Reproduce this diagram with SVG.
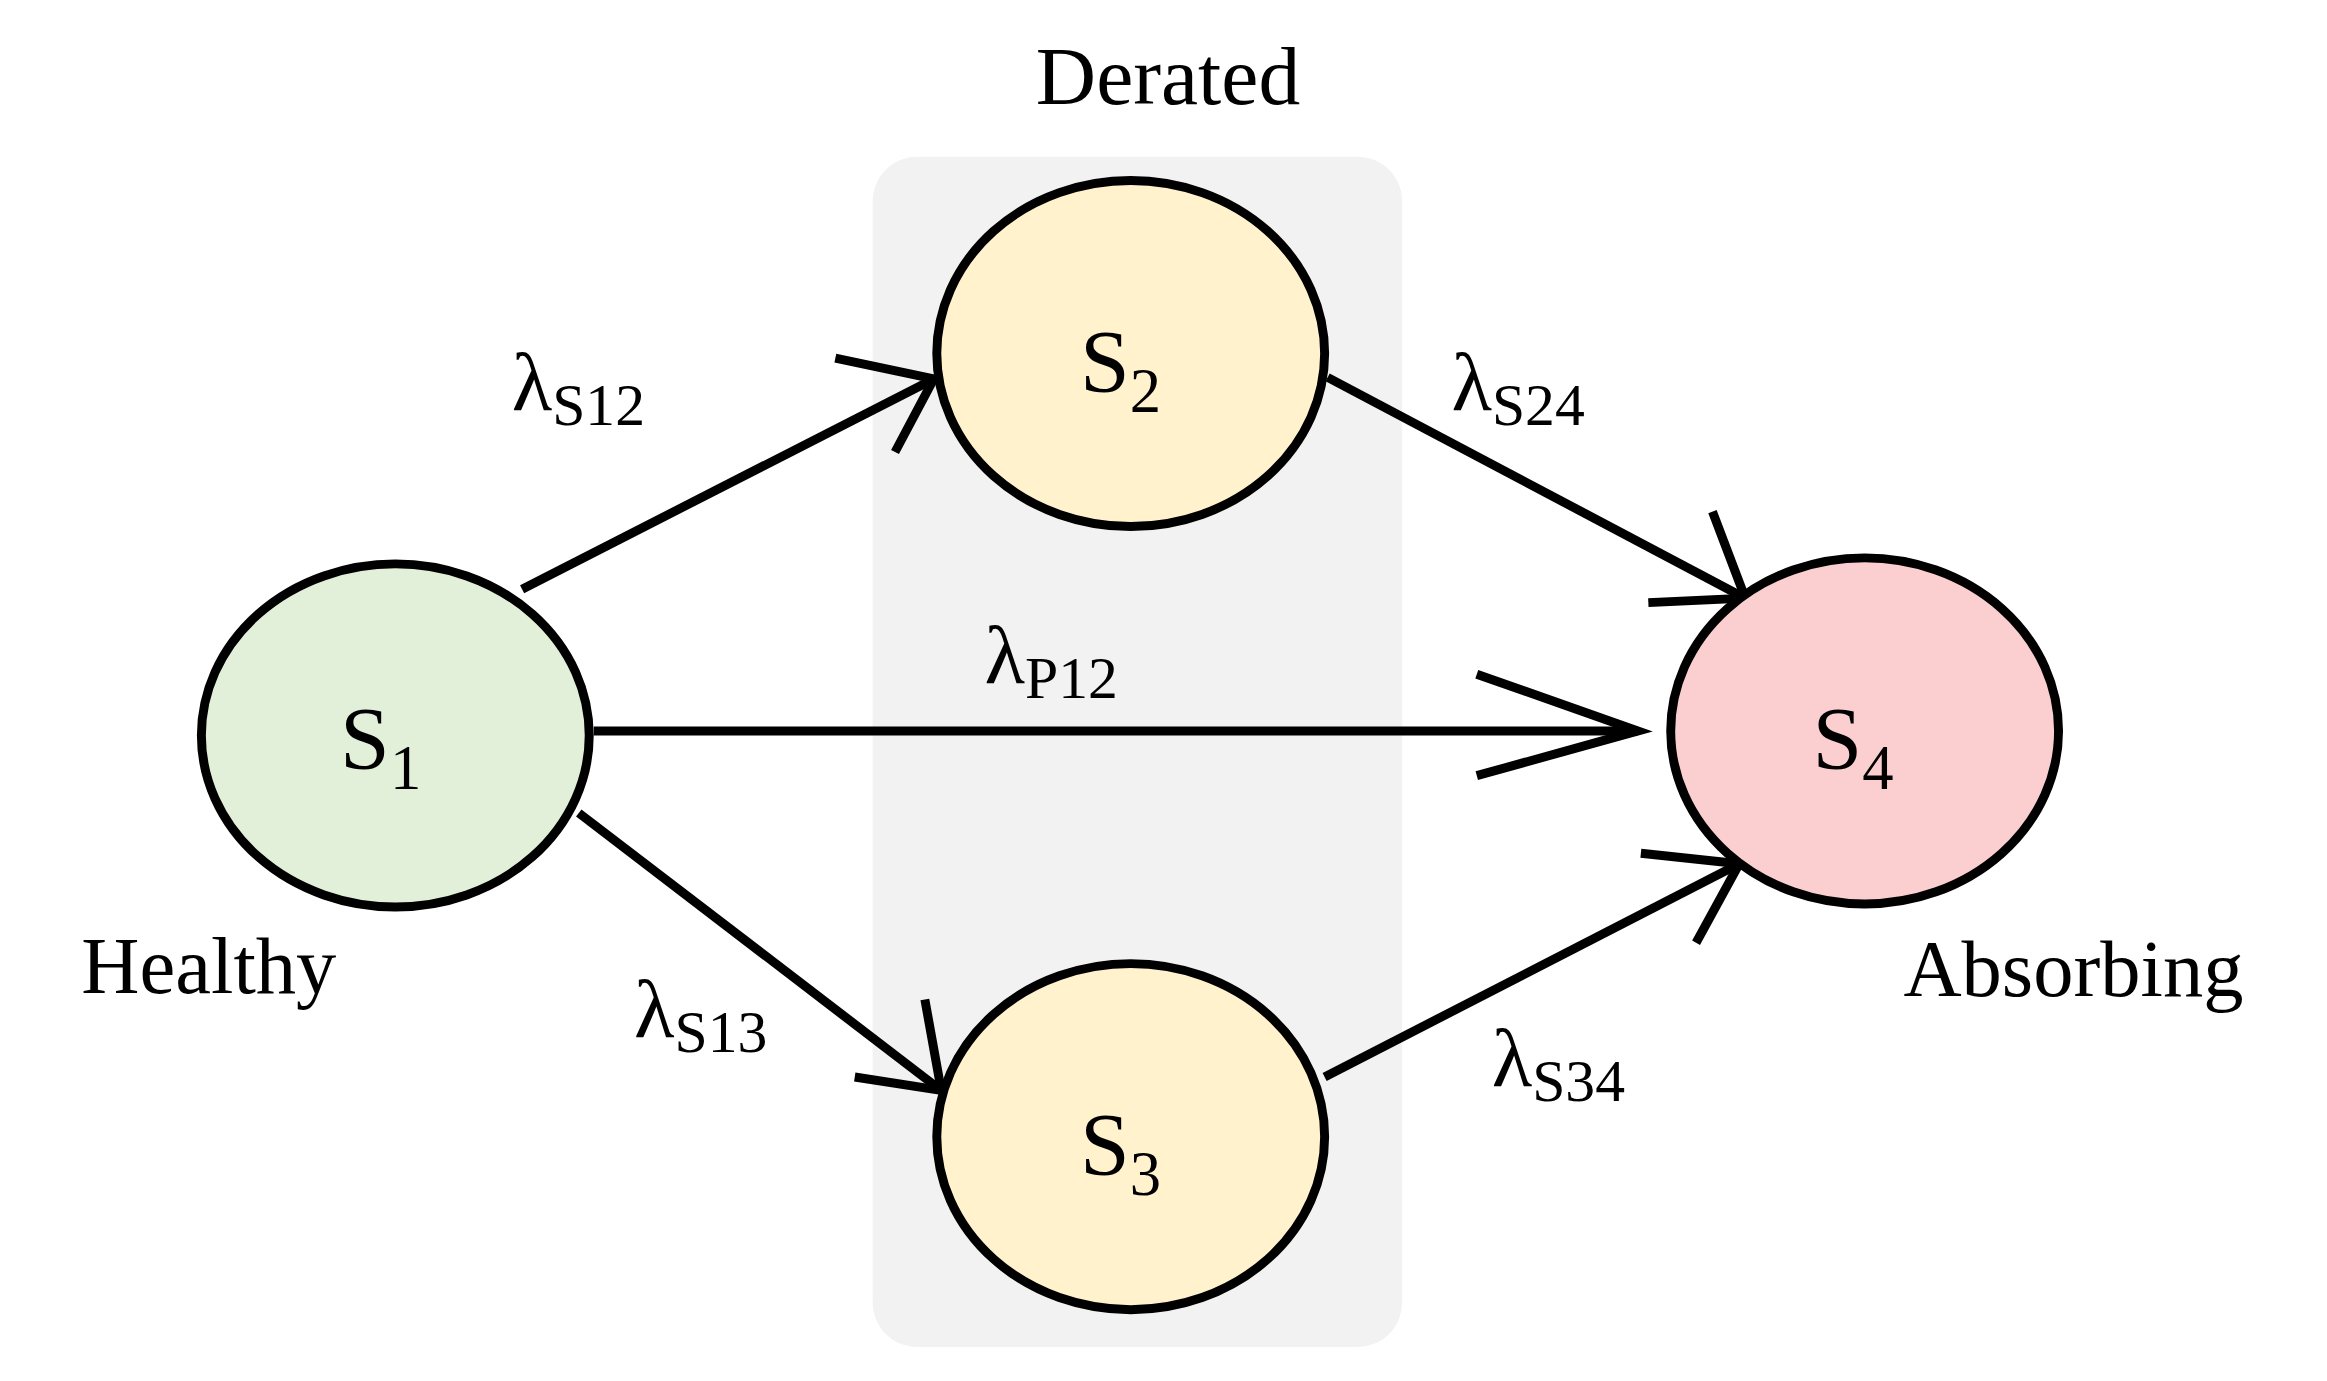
<svg xmlns="http://www.w3.org/2000/svg" width="2327" height="1381" viewBox="0 0 2327 1381">
<style>
.n{stroke:#000;stroke-width:6}
.t{font-family:"Liberation Serif",serif;fill:#000}
.c line,.c polyline{stroke:#000;stroke-width:6;fill:none}
</style>
<rect width="2327" height="1381" fill="#fff"/>
<g transform="scale(1.4917)">
<rect id="derated-box" x="585" y="105" width="355" height="798" rx="30" fill="#f2f2f2"/>
<text class="t" x="783" y="70" font-size="56" text-anchor="middle">Derated</text>
<g class="c" id="connectors">
<line x1="350" y1="395" x2="626" y2="254"/><polyline points="560,240 626,254 600,303"/>
<line x1="890" y1="253" x2="1170" y2="401"/><polyline points="1148,343 1170,401 1105,404"/>
<line x1="398" y1="490" x2="1098" y2="490"/><polyline points="990,452 1098,490 990,520"/>
<line x1="388" y1="545" x2="631" y2="731"/><polyline points="620,670 631,731 573,722"/>
<line x1="888" y1="722" x2="1166" y2="579"/><polyline points="1100,572 1166,579 1137,632"/>
</g>
<g id="s1"><ellipse class="n" cx="265" cy="493" rx="130" ry="115" fill="#e2efd9"/><text class="t" x="228" y="515" font-size="60">S<tspan font-size="42" dy="14">1</tspan></text><text class="t" x="140" y="666" font-size="54" text-anchor="middle">Healthy</text></g>
<g id="s2"><ellipse class="n" cx="758" cy="237" rx="130" ry="116" fill="#fff2cc"/><text class="t" x="724" y="262" font-size="60">S<tspan font-size="42" dy="14">2</tspan></text></g>
<g id="s3"><ellipse class="n" cx="758" cy="762" rx="130" ry="116" fill="#fff2cc"/><text class="t" x="724" y="787" font-size="60">S<tspan font-size="42" dy="14">3</tspan></text></g>
<g id="s4"><ellipse class="n" cx="1250" cy="490" rx="130" ry="116" fill="#fbcfcf"/><text class="t" x="1215" y="515" font-size="60">S<tspan font-size="42" dy="14">4</tspan></text><text class="t" x="1390" y="668" font-size="54" text-anchor="middle">Absorbing</text></g>
<g id="labels">
<text class="t" x="343" y="275" font-size="56">λ<tspan font-size="40" dy="10">S12</tspan></text>
<text class="t" x="973" y="275" font-size="56">λ<tspan font-size="40" dy="10">S24</tspan></text>
<text class="t" x="660" y="458" font-size="56">λ<tspan font-size="40" dy="10">P12</tspan></text>
<text class="t" x="425" y="695" font-size="56">λ<tspan font-size="40" dy="10">S13</tspan></text>
<text class="t" x="1000" y="728" font-size="56">λ<tspan font-size="40" dy="10">S34</tspan></text>
</g>
</g>
</svg>
